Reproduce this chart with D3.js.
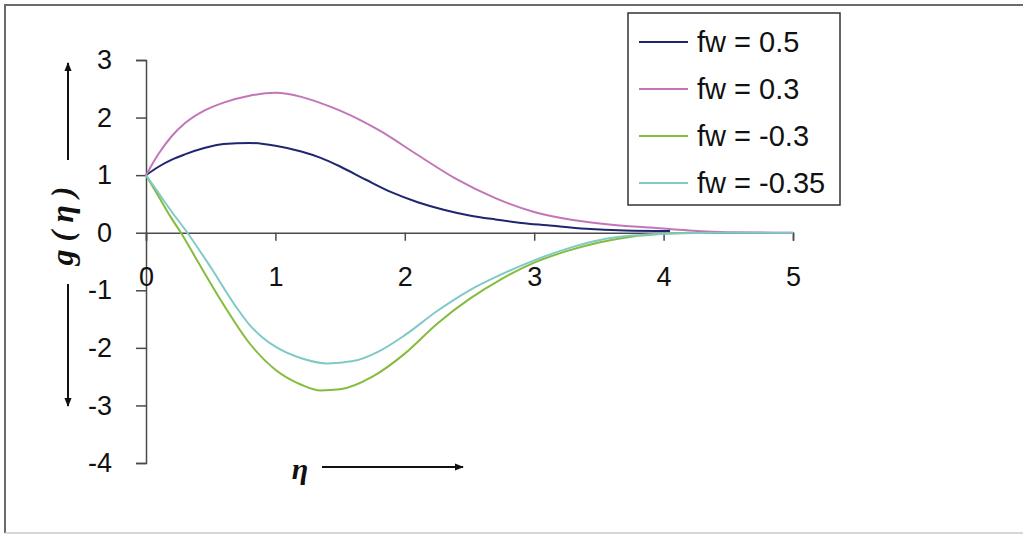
<!DOCTYPE html>
<html>
<head>
<meta charset="utf-8">
<script src="https://cdn.jsdelivr.net/npm/d3@7"></script>
<style>
    body { margin: 0; background: #fff; }
    svg { display: block; }
    .axis path, .axis line { stroke: #4a4a4a; stroke-width: 1.5; }
    .axis text { font-family: "Liberation Sans", Arial, sans-serif; font-size: 27px; fill: #111; }
    .legend text { font-family: "Liberation Sans", Arial, sans-serif; font-size: 29px; fill: #111; }
</style>
</head>
<body>
<svg id="chart" width="1023" height="548"></svg>
<script>

var seriesNames = ['fw = 0.5', 'fw = 0.3', 'fw = -0.3', 'fw = -0.35']
var seriesColors = ['#1e2670', '#c276b8', '#84bc3c', '#80cac6']

var etaFw05 = [0, 0.1, 0.2, 0.3, 0.45, 0.6, 0.8, 1.0, 1.2, 1.35, 1.5, 1.7, 1.9, 2.1, 2.3, 2.5, 2.7, 2.9, 3.1, 3.4, 3.7, 4.05]
var gFw05 = [1, 1.15, 1.27, 1.36, 1.47, 1.54, 1.56, 1.51, 1.41, 1.3, 1.15, 0.92, 0.7, 0.53, 0.4, 0.3, 0.23, 0.17, 0.13, 0.07, 0.04, 0.03]

var etaFw03 = [0, 0.1, 0.2, 0.3, 0.45, 0.6, 0.8, 1.0, 1.2, 1.34, 1.5, 1.8, 2.1, 2.4, 2.7, 3.0, 3.3, 3.6, 3.9, 4.2, 4.5, 5.0]
var gFw03 = [1, 1.38, 1.68, 1.9, 2.12, 2.26, 2.38, 2.43, 2.36, 2.26, 2.12, 1.78, 1.35, 0.93, 0.6, 0.36, 0.22, 0.14, 0.09, 0.04, 0.01, 0]

var etaFwM03 = [0, 0.1, 0.2, 0.27, 0.4, 0.6, 0.8, 1.0, 1.2, 1.35, 1.5, 1.75, 2.0, 2.25, 2.5, 2.75, 3.0, 3.25, 3.5, 3.75, 4.0, 4.2]
var gFwM03 = [1, 0.62, 0.24, 0, -0.5, -1.25, -1.92, -2.38, -2.64, -2.74, -2.72, -2.5, -2.1, -1.58, -1.15, -0.8, -0.52, -0.32, -0.17, -0.07, -0.02, 0]

var etaFwM035 = [0, 0.1, 0.2, 0.32, 0.5, 0.7, 0.8, 0.9, 1.0, 1.2, 1.4, 1.6, 1.8, 2.0, 2.25, 2.5, 2.75, 3.0, 3.25, 3.5, 3.75, 4.0, 4.5, 5.0]
var gFwM035 = [1, 0.68, 0.36, 0, -0.6, -1.3, -1.6, -1.82, -1.98, -2.18, -2.27, -2.23, -2.06, -1.78, -1.36, -1.0, -0.72, -0.48, -0.28, -0.13, -0.05, -0.02, 0, 0]

var xTicks = [0, 1, 2, 3, 4, 5]
var yTicks = [3, 2, 1, 0, -1, -2, -3, -4]

var series = [
    { name: seriesNames[0], color: seriesColors[0], eta: etaFw05, g: gFw05 },
    { name: seriesNames[1], color: seriesColors[1], eta: etaFw03, g: gFw03 },
    { name: seriesNames[2], color: seriesColors[2], eta: etaFwM03, g: gFwM03 },
    { name: seriesNames[3], color: seriesColors[3], eta: etaFwM035, g: gFwM035 }
]

var svg = d3.select('#chart')

// scanned page frame: strong top/left edge, faint bottom edge
svg.append('path')
    .attr('d', 'M5,533V5H1023')
    .attr('fill', 'none')
    .attr('stroke', '#6a6a6a')
    .attr('stroke-width', 2)

svg.append('line')
    .attr('x1', 5)
    .attr('y1', 533)
    .attr('x2', 1023)
    .attr('y2', 533)
    .attr('stroke', '#c8c8c8')
    .attr('stroke-width', 1.5)

var xScale = d3.scaleLinear()
    .domain([0, 5])
    .range([146, 793])

var yScale = d3.scaleLinear()
    .domain([-4, 3])
    .range([463, 60])

var yAxis = d3.axisLeft(yScale)
    .tickValues(yTicks)
    .tickSize(10)
    .tickPadding(24)
    .tickFormat(function (d) { return String(d) })

svg.append('g')
    .attr('class', 'axis')
    .attr('transform', 'translate(' + xScale(0) + ', 0)')
    .call(yAxis)
    .attr('font-family', null)
    .attr('font-size', null)

var xAxis = d3.axisBottom(xScale)
    .tickValues(xTicks)
    .tickSize(8)
    .tickPadding(26)
    .tickFormat(function (d) { return String(d) })

svg.append('g')
    .attr('class', 'axis')
    .attr('transform', 'translate(0, ' + yScale(0) + ')')
    .call(xAxis)
    .attr('font-family', null)
    .attr('font-size', null)

var line = d3.line()
    .x(function (d) { return xScale(d[0]) })
    .y(function (d) { return yScale(d[1]) })
    .curve(d3.curveMonotoneX)

svg.append('g')
    .attr('id', 'plot')
    .selectAll('path')
    .data(series)
    .enter()
    .append('path')
    .attr('d', function (s) { return line(d3.zip(s.eta, s.g)) })
    .attr('fill', 'none')
    .attr('stroke', function (s) { return s.color })
    .attr('stroke-width', 2)

// arrow heads for the axis captions
svg.append('defs').append('marker')
    .attr('id', 'head')
    .attr('viewBox', '0 0 10 10')
    .attr('refX', 9)
    .attr('refY', 5)
    .attr('markerWidth', 9)
    .attr('markerHeight', 9)
    .attr('markerUnits', 'userSpaceOnUse')
    .attr('orient', 'auto')
    .append('path')
    .attr('d', 'M0,1L10,5L0,9Z')
    .attr('fill', '#111')

var arrows = [[68, 160, 68, 63], [68, 284, 68, 406], [322, 467, 463, 467]]

svg.append('g')
    .selectAll('line')
    .data(arrows)
    .enter()
    .append('line')
    .attr('x1', function (d) { return d[0] })
    .attr('y1', function (d) { return d[1] })
    .attr('x2', function (d) { return d[2] })
    .attr('y2', function (d) { return d[3] })
    .attr('stroke', '#111')
    .attr('stroke-width', 2)
    .attr('marker-end', 'url(#head)')

svg.append('text')
    .attr('transform', 'translate(62, 226) rotate(-90)')
    .attr('text-anchor', 'middle')
    .attr('dominant-baseline', 'central')
    .attr('font-family', '"Liberation Serif", "Times New Roman", serif')
    .attr('font-style', 'italic')
    .attr('font-weight', 'bold')
    .attr('font-size', 32)
    .attr('fill', '#111')
    .text('g ( \u03b7 )')

svg.append('text')
    .attr('x', 300)
    .attr('y', 468)
    .attr('text-anchor', 'middle')
    .attr('dominant-baseline', 'central')
    .attr('font-family', '"Liberation Serif", "Times New Roman", serif')
    .attr('font-style', 'italic')
    .attr('font-weight', 'bold')
    .attr('font-size', 30)
    .attr('fill', '#111')
    .text('\u03b7')

var legend = svg.append('g')
    .attr('class', 'legend')

legend.append('rect')
    .attr('x', 628)
    .attr('y', 13)
    .attr('width', 212)
    .attr('height', 192)
    .attr('fill', '#fff')
    .attr('stroke', '#333')
    .attr('stroke-width', 1.5)

var legendItems = legend.selectAll('g')
    .data(series)
    .enter()
    .append('g')
    .attr('transform', function (_, i) { return 'translate(0, ' + (42 + i * 47) + ')' })

legendItems.append('line')
    .attr('x1', 639)
    .attr('x2', 688)
    .attr('stroke', function (s) { return s.color })
    .attr('stroke-width', 2)

legendItems.append('text')
    .attr('x', 697)
    .attr('dominant-baseline', 'central')
    .text(function (s) { return s.name })

</script>
</body>
</html>
